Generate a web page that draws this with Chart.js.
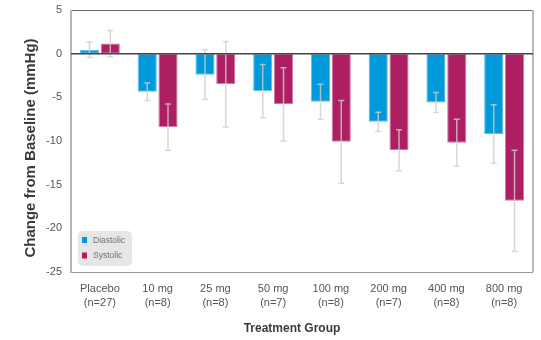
<!DOCTYPE html>
<html>
<head>
<meta charset="utf-8">
<script src="https://cdn.jsdelivr.net/npm/chart.js@4"></script>
<style>
  html, body { margin: 0; padding: 0; background: #fff; }
  #wrap { width: 541px; height: 340px; }
</style>
</head>
<body>
<div id="wrap"><canvas id="c" width="541" height="340"></canvas></div>
<script>
// Dose groups with sample sizes
const groups = [
  ['Placebo', '(n=27)'], ['10 mg', '(n=8)'], ['25 mg', '(n=8)'], ['50 mg', '(n=7)'],
  ['100 mg', '(n=8)'], ['200 mg', '(n=7)'], ['400 mg', '(n=8)'], ['800 mg', '(n=8)']
];
// Mean change from baseline (mmHg) and error half-widths
const diastolic    = [0.45, -4.35, -2.4, -4.3, -5.5, -7.8, -5.6, -9.2];
const diastolicErr = [0.9, 1.0, 2.85, 3.05, 2.0, 1.1, 1.15, 3.35];
const systolic     = [1.15, -8.4, -3.5, -5.8, -10.1, -11.05, -10.2, -16.85];
const systolicErr  = [1.5, 2.65, 4.9, 4.2, 4.75, 2.35, 2.7, 5.8];
const yTicks = [5, 0, -5, -10, -15, -20, -25];

const errors = [diastolicErr, systolicErr];
const FONT = "'Liberation Sans', Arial, sans-serif";

// Error whiskers drawn over the bars
const errorBars = {
  id: 'errorBars',
  afterDatasetsDraw(chart) {
    const ctx = chart.ctx, y = chart.scales.y;
    ctx.save();
    ctx.strokeStyle = 'rgba(205,205,205,0.8)';
    ctx.lineWidth = 1.5;
    chart.data.datasets.forEach((ds, i) => {
      chart.getDatasetMeta(i).data.forEach((bar, j) => {
        const v = ds.data[j], e = errors[i][j];
        const top = y.getPixelForValue(v + e), bot = y.getPixelForValue(v - e);
        ctx.beginPath();
        ctx.moveTo(bar.x, top); ctx.lineTo(bar.x, bot);
        ctx.moveTo(bar.x - 3, top); ctx.lineTo(bar.x + 3, top);
        ctx.moveTo(bar.x - 3, bot); ctx.lineTo(bar.x + 3, bot);
        ctx.stroke();
      });
    });
    ctx.restore();
  }
};

// Frame, zero line, axis titles and inset legend
const frame = {
  id: 'frame',
  afterDraw(chart) {
    const ctx = chart.ctx, a = chart.chartArea, y = chart.scales.y;
    ctx.save();
    // top
    ctx.strokeStyle = '#666'; ctx.lineWidth = 1;
    ctx.beginPath(); ctx.moveTo(a.left, a.top + 0.5); ctx.lineTo(a.right, a.top + 0.5); ctx.stroke();
    // right
    ctx.strokeStyle = '#bbb'; ctx.lineWidth = 2;
    ctx.beginPath(); ctx.moveTo(a.right, a.top); ctx.lineTo(a.right, a.bottom); ctx.stroke();
    // bottom
    ctx.strokeStyle = '#999'; ctx.lineWidth = 1;
    ctx.beginPath(); ctx.moveTo(a.left, a.bottom + 0.5); ctx.lineTo(a.right, a.bottom + 0.5); ctx.stroke();
    // left
    ctx.strokeStyle = '#b5b5b5'; ctx.lineWidth = 2;
    ctx.beginPath(); ctx.moveTo(a.left, a.top); ctx.lineTo(a.left, a.bottom + 1); ctx.stroke();
    // zero line
    const z = y.getPixelForValue(0);
    ctx.strokeStyle = '#444'; ctx.lineWidth = 1.5;
    ctx.beginPath(); ctx.moveTo(a.left, z); ctx.lineTo(a.right, z); ctx.stroke();

    // axis titles
    ctx.fillStyle = '#3a3a3a';
    ctx.textAlign = 'center'; ctx.textBaseline = 'middle';
    ctx.font = 'bold 12px ' + FONT;
    ctx.fillText('Treatment Group', 292, 329);
    ctx.save();
    ctx.translate(31, 148); ctx.rotate(-Math.PI / 2);
    ctx.font = 'bold 15px ' + FONT;
    ctx.fillText('Change from Baseline (mmHg)', 0, 0);
    ctx.restore();

    // legend
    ctx.fillStyle = '#e6e6e6';
    ctx.beginPath(); ctx.roundRect(78, 231, 54, 35, 5); ctx.fill();
    ctx.font = '8.5px ' + FONT;
    ctx.textAlign = 'left';
    chart.data.datasets.forEach((ds, i) => {
      const cy = 240 + i * 15.5;
      ctx.fillStyle = ds.backgroundColor;
      ctx.fillRect(82, cy - 3, 5, 6);
      ctx.fillStyle = '#707070';
      ctx.fillText(ds.label, 93, cy + 0.5);
    });
    ctx.restore();
  }
};

new Chart(document.getElementById('c'), {
  type: 'bar',
  data: {
    labels: groups,
    datasets: [
      { label: 'Diastolic', data: diastolic, backgroundColor: '#0099da',
        borderColor: '#5cbde8', borderWidth: 1, borderSkipped: false },
      { label: 'Systolic', data: systolic, backgroundColor: '#ad1f62',
        borderColor: '#d07aa2', borderWidth: 1, borderSkipped: false }
    ]
  },
  options: {
    responsive: false,
    animation: false,
    devicePixelRatio: 1,
    layout: { padding: { top: 0, right: 8, left: 0, bottom: 0 } },
    datasets: { bar: { categoryPercentage: 0.72, barPercentage: 0.92 } },
    plugins: { legend: { display: false }, tooltip: { enabled: false } },
    scales: {
      x: {
        grid: { display: false, drawTicks: false },
        border: { display: false },
        ticks: { color: '#555', font: { family: FONT, size: 11, lineHeight: 1.27 }, padding: 10, maxRotation: 0 },
        afterFit(s) { s.height = 68; }
      },
      y: {
        min: -25, max: 5,
        grid: { display: false, drawTicks: false },
        border: { display: false },
        afterBuildTicks(s) { s.ticks = yTicks.map(v => ({ value: v })); },
        ticks: { color: '#555', font: { family: FONT, size: 11 }, padding: 9 },
        afterFit(s) { s.width = 71; s.paddingTop = 10; s.paddingBottom = 0; }
      }
    }
  },
  plugins: [errorBars, frame]
});
</script>
</body>
</html>
